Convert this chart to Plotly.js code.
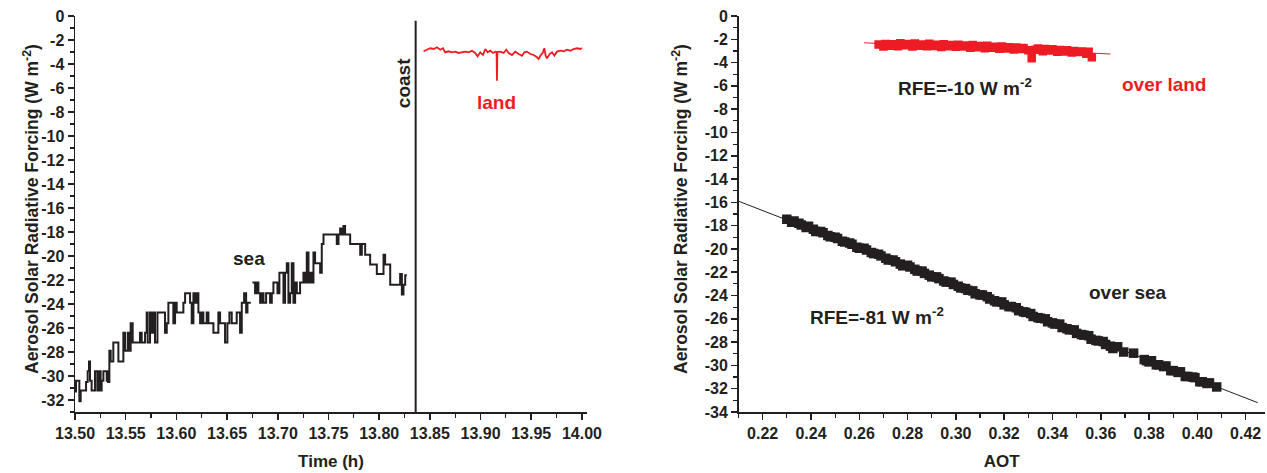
<!DOCTYPE html>
<html>
<head>
<meta charset="utf-8">
<script src="https://cdn.plot.ly/plotly-3.0.1.min.js"></script>
<style>html,body{margin:0;padding:0;background:#fff;}#chart{width:1267px;height:473px;}</style>
</head>
<body>
<div id="chart"></div>
<script>
// ---- Left panel: forcing vs time ----
const seaTime1 = [13.5000,13.5010,13.5043,13.5056,13.5109,13.5125,13.5138,13.5148,13.5164,13.5197,13.5220,13.5240,13.5253,13.5263,13.5280,13.5313,13.5320,13.5326,13.5339,13.5352,13.5378,13.5428,13.5477,13.5493,13.5520,13.5536,13.5549,13.5569,13.5641,13.5658,13.5691,13.5707,13.5717,13.5740,13.5757,13.5773,13.5789,13.5813,13.5888,13.5905,13.5921,13.5970,13.5987,13.6003,13.6069,13.6086,13.6135,13.6151,13.6168,13.6184,13.6201,13.6217,13.6234,13.6250,13.6266,13.6299,13.6316,13.6365,13.6414,13.6431,13.6480,13.6503,13.6523,13.6546,13.6595,13.6628,13.6645,13.6668,13.6688,13.6701,13.6734];
const seaForcing1 = [-31.3,-30.4,-32.1,-31.2,-30.5,-29.6,-28.8,-30.4,-31.2,-29.6,-31.2,-29.6,-31.2,-30.4,-29.6,-30.4,-29.6,-30.5,-27.9,-28.8,-27.2,-28.8,-26.4,-27.9,-26.4,-27.9,-25.6,-27.2,-26.4,-27.2,-26.4,-24.7,-27.2,-24.7,-26.4,-24.7,-27.2,-24.7,-26.4,-25.6,-23.9,-25.6,-23.9,-24.7,-23.9,-23.1,-23.9,-25.6,-23.1,-23.9,-23.1,-24.7,-25.6,-24.7,-25.6,-24.7,-25.6,-26.4,-24.7,-25.6,-27.2,-25.6,-24.7,-25.6,-24.7,-26.4,-23.9,-23.1,-24.7,-23.9,-23.9];
const seaTime2 = [13.6750,13.6776,13.6793,13.6809,13.6826,13.6842,13.6859,13.6885,13.6924,13.6941,13.6957,13.6997,13.7016,13.7056,13.7072,13.7089,13.7105,13.7122,13.7138,13.7155,13.7171,13.7188,13.7220,13.7253,13.7270,13.7286,13.7303,13.7319,13.7336,13.7352,13.7368,13.7418,13.7434,13.7451,13.7582,13.7599,13.7615,13.7632,13.7648,13.7664,13.7714,13.7813,13.7829,13.7862,13.7911,13.7977,13.8043,13.8059,13.8109,13.8207,13.8224,13.8240,13.8257,13.8273];
const seaForcing2 = [-22.2,-23.1,-22.2,-23.1,-23.9,-23.1,-23.9,-23.1,-23.9,-23.1,-22.2,-23.1,-21.4,-23.9,-21.4,-20.6,-23.9,-23.1,-20.6,-23.9,-22.2,-23.1,-22.2,-21.4,-22.2,-19.7,-22.2,-21.4,-22.2,-19.7,-20.6,-21.4,-19.0,-18.2,-19.0,-18.2,-17.7,-18.2,-17.5,-18.2,-19.0,-19.9,-19.0,-19.9,-20.7,-21.5,-19.9,-20.7,-22.4,-21.5,-23.2,-22.4,-21.6,-21.6];
const landTime = [13.8438,13.8471,13.8504,13.8537,13.8570,13.8602,13.8629,13.8652,13.8685,13.8718,13.8750,13.8783,13.8816,13.8849,13.8882,13.8915,13.8948,13.8971,13.8997,13.9024,13.9047,13.9070,13.9096,13.9122,13.9145,13.9158,13.9162,13.9166,13.9195,13.9228,13.9254,13.9277,13.9310,13.9343,13.9376,13.9409,13.9432,13.9458,13.9491,13.9524,13.9557,13.9573,13.9590,13.9616,13.9629,13.9642,13.9655,13.9682,13.9705,13.9728,13.9754,13.9787,13.9820,13.9853,13.9885,13.9918,13.9951,13.9984,14.0000];
const landForcing = [-2.94,-2.81,-2.69,-2.75,-2.61,-2.81,-2.69,-3.03,-2.94,-3.03,-2.97,-3.08,-3.03,-2.97,-3.03,-2.89,-3.08,-3.36,-3.03,-3.25,-2.75,-3.03,-2.89,-3.08,-2.97,-3.0,-5.39,-3.0,-2.97,-3.08,-2.81,-3.08,-3.25,-2.97,-3.17,-3.31,-3.03,-2.97,-3.17,-3.25,-3.44,-3.58,-3.31,-3.03,-2.69,-3.31,-3.53,-3.17,-3.03,-3.31,-2.97,-2.89,-2.94,-2.81,-2.89,-2.75,-2.69,-2.75,-2.67];
const coastTime = [13.836, 13.836];
const coastForcing = [-0.4, -33];

// ---- Right panel: forcing vs AOT ----
const seaAOT = [0.230,0.232,0.235,0.238,0.241,0.244,0.247,0.250,0.253,0.256,0.259,0.262,0.265,0.268,0.271,0.274,0.277,0.280,0.283,0.286,0.289,0.292,0.295,0.298,0.301,0.304,0.307,0.310,0.313,0.316,0.319,0.322,0.325,0.328,0.331,0.334,0.337,0.340,0.343,0.346,0.349,0.352,0.355,0.358,0.361,0.364,0.367,0.3695,0.3736,0.378,0.381,0.384,0.387,0.390,0.393,0.396,0.399,0.402,0.405,0.408,
                0.233,0.239,0.245,0.251,0.257,0.263,0.269,0.275,0.281,0.287,0.293,0.299,0.305,0.311,0.317,0.323,0.329,0.335,0.341,0.347,0.353,0.359,0.365,0.380,0.386,0.392,0.398,0.404,
                0.236,0.242,0.248,0.254,0.260,0.266,0.272,0.278,0.284,0.290,0.296,0.302,0.308,0.314,0.320,0.326,0.332,0.338,0.344,0.350,0.356,0.362,0.379,0.383,0.389,0.395,0.401];
const seaRFE = [-17.45,-17.70,-17.80,-18.15,-18.30,-18.50,-18.85,-19.00,-19.35,-19.50,-19.85,-19.95,-20.30,-20.45,-20.80,-20.95,-21.30,-21.40,-21.75,-21.90,-22.25,-22.40,-22.75,-22.85,-23.20,-23.40,-23.60,-23.95,-24.10,-24.45,-24.55,-24.95,-25.05,-25.40,-25.55,-25.90,-26.00,-26.35,-26.45,-26.85,-26.95,-27.35,-27.45,-27.85,-27.95,-28.35,-28.40,-28.85,-28.95,-29.50,-29.60,-29.95,-30.05,-30.45,-30.55,-30.95,-31.05,-31.40,-31.50,-31.85,
                -17.60,-18.05,-18.60,-19.10,-19.60,-20.10,-20.60,-21.10,-21.55,-22.10,-22.55,-23.05,-23.55,-23.95,-24.55,-24.95,-25.45,-25.95,-26.45,-26.95,-27.40,-27.90,-28.55,-29.70,-30.10,-30.60,-31.00,-31.55,
                -17.95,-18.50,-18.95,-19.40,-19.95,-20.40,-20.95,-21.45,-21.90,-22.40,-22.85,-23.35,-23.85,-24.30,-24.80,-25.30,-25.80,-26.25,-26.75,-27.25,-27.75,-28.20,-29.60,-29.95,-30.45,-30.95,-31.40];
const landAOT = [0.268,0.271,0.274,0.277,0.280,0.283,0.286,0.289,0.292,0.295,0.298,0.301,0.304,0.307,0.310,0.313,0.316,0.319,0.322,0.325,0.328,0.3314,0.334,0.337,0.340,0.343,0.346,0.349,0.352,0.355,0.3563,
                 0.270,0.276,0.282,0.288,0.294,0.300,0.306,0.312,0.318,0.324,0.330,0.336,0.342,0.348,0.354,
                 0.273,0.279,0.285,0.291,0.297,0.303,0.309,0.315,0.321,0.327,0.333,0.339,0.345,0.351];
const landRFE = [-2.45,-2.40,-2.42,-2.35,-2.40,-2.36,-2.44,-2.38,-2.46,-2.42,-2.50,-2.46,-2.54,-2.50,-2.58,-2.56,-2.64,-2.62,-2.68,-2.70,-2.74,-3.62,-2.80,-2.84,-2.86,-2.92,-2.94,-3.00,-3.04,-3.08,-3.55,
                 -2.62,-2.60,-2.62,-2.60,-2.66,-2.64,-2.72,-2.76,-2.82,-2.88,-2.94,-3.02,-3.06,-3.14,-3.24,
                 -2.55,-2.52,-2.56,-2.58,-2.60,-2.62,-2.68,-2.72,-2.80,-2.84,-2.90,-2.96,-3.04,-3.10];
const seaFitAOT = [0.21, 0.425];
const seaFitRFE = [-15.9, -33.2];
const landFitAOT = [0.262, 0.364];
const landFitRFE = [-2.30, -3.26];

// ---- tick labels ----
const leftYTickVals = [0,-2,-4,-6,-8,-10,-12,-14,-16,-18,-20,-22,-24,-26,-28,-30,-32];
const leftYTickText = ["0","-2","-4","-6","-8","-10","-12","-14","-16","-18","-20","-22","-24","-26","-28","-30","-32"];
const rightYTickVals = [0,-2,-4,-6,-8,-10,-12,-14,-16,-18,-20,-22,-24,-26,-28,-30,-32,-34];
const rightYTickText = ["0","-2","-4","-6","-8","-10","-12","-14","-16","-18","-20","-22","-24","-26","-28","-30","-32","-34"];
const timeTickVals = [13.50,13.55,13.60,13.65,13.70,13.75,13.80,13.85,13.90,13.95,14.00];
const timeTickText = ["13.50","13.55","13.60","13.65","13.70","13.75","13.80","13.85","13.90","13.95","14.00"];
const aotTickVals = [0.22,0.24,0.26,0.28,0.30,0.32,0.34,0.36,0.38,0.40,0.42];
const aotTickText = ["0.22","0.24","0.26","0.28","0.30","0.32","0.34","0.36","0.38","0.40","0.42"];

const BLACK = '#231f20';
const RED = '#ed1c24';
const FONT = 'Liberation Sans, Arial, sans-serif';

const traces = [
  {x: seaTime1, y: seaForcing1, xaxis:'x', yaxis:'y', mode:'lines', line:{color:BLACK, width:2, shape:'hv'}},
  {x: seaTime2, y: seaForcing2, xaxis:'x', yaxis:'y', mode:'lines', line:{color:BLACK, width:2, shape:'hv'}},
  {x: landTime, y: landForcing, xaxis:'x', yaxis:'y', mode:'lines', line:{color:RED, width:1.8}},
  {x: coastTime, y: coastForcing, xaxis:'x', yaxis:'y', mode:'lines', line:{color:BLACK, width:2}},
  {x: seaFitAOT, y: seaFitRFE, xaxis:'x2', yaxis:'y2', mode:'lines', line:{color:BLACK, width:1}},
  {x: landFitAOT, y: landFitRFE, xaxis:'x2', yaxis:'y2', mode:'lines', line:{color:RED, width:1}},
  {x: seaAOT, y: seaRFE, xaxis:'x2', yaxis:'y2', mode:'markers', marker:{symbol:'square', size:9.5, color:BLACK}},
  {x: landAOT, y: landRFE, xaxis:'x2', yaxis:'y2', mode:'markers', marker:{symbol:'square', size:8.5, color:RED}}
];

const tickFont = {family: FONT, size: 16, color: BLACK, weight: 'bold'};
const titleFont = {family: FONT, size: 17, color: BLACK, weight: 'bold'};
const axBase = {showgrid:false, zeroline:false, showline:true, linecolor:BLACK, linewidth:1.5,
  ticks:'outside', ticklen:6, tickwidth:1.5, tickcolor:BLACK, tickfont: tickFont, tickmode:'array'};

const yTitle = 'Aerosol Solar Radiative Forcing (W m<sup>-2</sup>)';
const annFont = (c) => ({family:FONT, size:19, color:c, weight:'bold'});

const layout = {
  width:1267, height:473,
  margin:{l:0, r:0, t:16, b:61},
  paper_bgcolor:'#fff', plot_bgcolor:'rgba(0,0,0,0)',
  showlegend:false,
  xaxis: Object.assign({}, axBase, {domain:[75/1267, 587/1267], range:[13.5, 14.005],
    tickvals: timeTickVals, ticktext: timeTickText,
    minor:{dtick:0.025, tick0:13.5, ticklen:4, tickwidth:1.2, tickcolor:BLACK, ticks:'outside'},
    title:{text:'Time (h)', font:titleFont, standoff:14}}),
  yaxis: Object.assign({}, axBase, {domain:[0,1], range:[-33, 0], anchor:'x',
    tickvals: leftYTickVals, ticktext: leftYTickText,
    minor:{dtick:1, tick0:0, ticklen:4, tickwidth:1.2, tickcolor:BLACK, ticks:'outside'}}),
  xaxis2: Object.assign({}, axBase, {domain:[738.5/1267, 1265/1267], range:[0.21, 0.428], anchor:'y2',
    tickvals: aotTickVals, ticktext: aotTickText,
    minor:{dtick:0.01, tick0:0.21, ticklen:4, tickwidth:1.2, tickcolor:BLACK, ticks:'outside'},
    title:{text:'AOT', font:titleFont, standoff:14}}),
  yaxis2: Object.assign({}, axBase, {domain:[0,1], range:[-34, 0], anchor:'x2',
    tickvals: rightYTickVals, ticktext: rightYTickText,
    minor:{dtick:1, tick0:0, ticklen:4, tickwidth:1.2, tickcolor:BLACK, ticks:'outside'}}),
  annotations: [
    {xref:'paper', yref:'paper', x:18/1267, y:(412-209)/396, text:yTitle, textangle:-90, showarrow:false, font:{family:FONT, size:17.5, color:BLACK, weight:'bold'}},
    {xref:'paper', yref:'paper', x:680/1267, y:(412-209)/396, text:yTitle, textangle:-90, showarrow:false, font:{family:FONT, size:17.5, color:BLACK, weight:'bold'}},
    {xref:'x', yref:'y', x:13.8235, y:-5.6, text:'coast', textangle:-90, showarrow:false, font:annFont(BLACK)},
    {xref:'x', yref:'y', x:13.9162, y:-7.17, text:'land', showarrow:false, font:annFont(RED)},
    {xref:'x', yref:'y', x:13.6716, y:-20.17, text:'sea', showarrow:false, font:annFont(BLACK)},
    {xref:'x2', yref:'y2', x:0.3038, y:-6.09, text:'RFE=-10 W m<sup>-2</sup>', showarrow:false, font:annFont(BLACK)},
    {xref:'x2', yref:'y2', x:0.3862, y:-5.92, text:'over land', showarrow:false, font:annFont(RED)},
    {xref:'x2', yref:'y2', x:0.2673, y:-25.75, text:'RFE=-81 W m<sup>-2</sup>', showarrow:false, font:annFont(BLACK)},
    {xref:'x2', yref:'y2', x:0.3713, y:-23.78, text:'over sea', showarrow:false, font:annFont(BLACK)}
  ]
};

Plotly.newPlot('chart', traces, layout, {staticPlot:true, displayModeBar:false});
</script>
</body>
</html>
